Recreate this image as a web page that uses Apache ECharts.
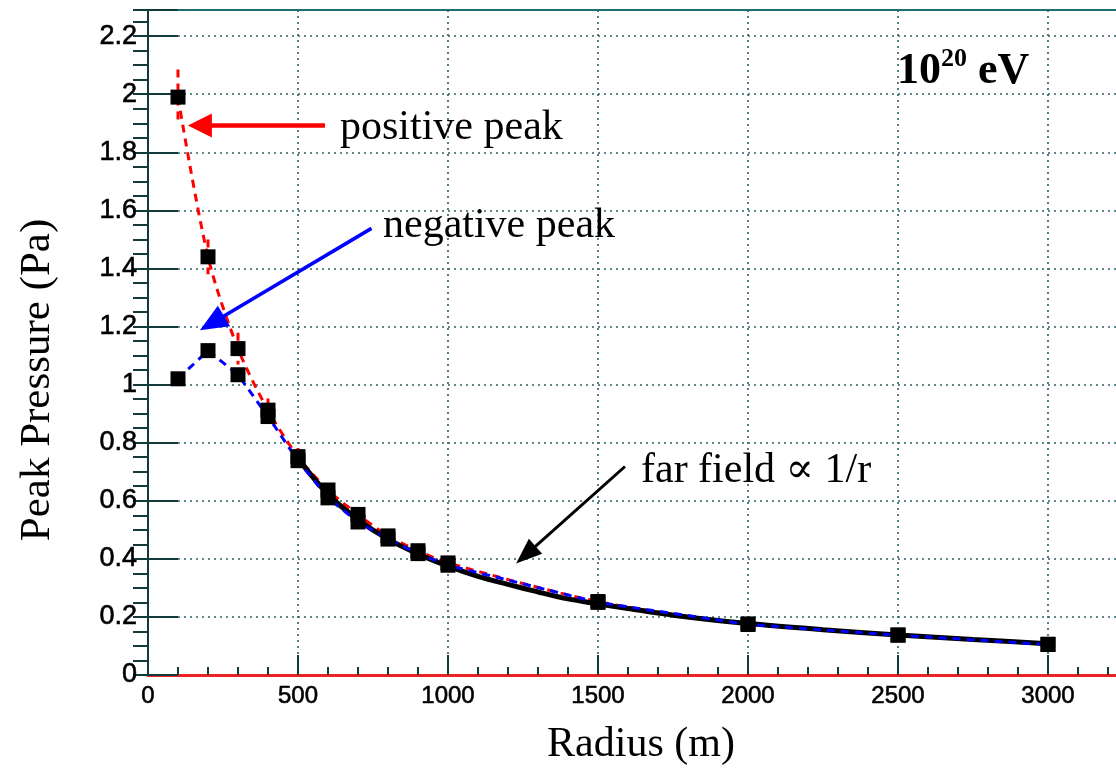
<!DOCTYPE html>
<html><head><meta charset="utf-8">
<script src="https://cdn.jsdelivr.net/npm/echarts@6/dist/echarts.min.js"></script>
<style>html,body{margin:0;padding:0;background:#fff}#c{width:1116px;height:768px}</style>
</head><body><div id="c"></div>
<script>
// ---- data ----
const radius = [100, 200, 300, 400, 500, 600, 700, 800, 900, 1000, 1500, 2000, 2500, 3000];
const positivePeak = [1.99, 1.44, 1.124, 0.912, 0.752, 0.637, 0.553, 0.479, 0.428, 0.386, 0.253, 0.176, 0.138, 0.106];
const negativePeak = [1.02, 1.117, 1.034, 0.89, 0.738, 0.61, 0.527, 0.468, 0.418, 0.378, 0.25, 0.174, 0.137, 0.105];
const errRadius = [100, 200, 300, 400, 500];
const errHalf = [0.095, 0.06, 0.055, 0.04, 0.03];
const farRadius = [500, 600, 700, 800, 900, 1000, 1100, 1200, 1300, 1400, 1500, 1600, 1750, 2000, 2250, 2500, 2750, 3000];
const farPressure = [0.745, 0.622, 0.535, 0.468, 0.417, 0.375, 0.34, 0.312, 0.286, 0.262, 0.245, 0.229, 0.206, 0.177, 0.156, 0.138, 0.122, 0.108];
const xTicks = [0, 500, 1000, 1500, 2000, 2500, 3000];
const yTicks = [0, 0.2, 0.4, 0.6, 0.8, 1, 1.2, 1.4, 1.6, 1.8, 2, 2.2];

const pair = (xs, ys) => xs.map((x, i) => [x, ys[i]]);
const AX = '#123c3c';
const GRID = '#2c6262';

const chart = echarts.init(document.getElementById('c'));
const option = {
  animation: false,
  backgroundColor: '#fff',
  grid: {left: 148, top: 10, width: 990, height: 665, containLabel: false, outerBoundsMode: 'none'},
  xAxis: [
    {type: 'value', min: 0, max: 3300, interval: 500, position: 'bottom',
     axisLine: {show: true, onZero: false, lineStyle: {color: '#ee2222', width: 3}},
     axisTick: {show: true, inside: true, length: 20, lineStyle: {color: AX, width: 2}},
     splitLine: {show: true, lineStyle: {color: GRID, type: [2, 4], width: 1.6}},
     axisLabel: {margin: 9, fontFamily: 'Liberation Sans', fontSize: 24, color: '#000',
                 textBorderColor: '#000', textBorderWidth: 0.6,
                 formatter: v => xTicks.includes(v) ? String(v) : ''}},
    {type: 'value', min: 0, max: 3300, interval: 100, position: 'bottom',
     axisLine: {show: false}, axisLabel: {show: false}, splitLine: {show: false},
     axisTick: {show: true, inside: true, length: 8, lineStyle: {color: AX, width: 2}}},
    {type: 'value', min: 0, max: 3300, position: 'top',
     axisLine: {show: true, onZero: false, lineStyle: {color: '#1f6e6e', width: 2}},
     axisTick: {show: false}, axisLabel: {show: false}, splitLine: {show: false}}
  ],
  yAxis: [
    {type: 'value', min: 0, max: 2.29, interval: 0.2,
     axisLine: {show: true, onZero: false, lineStyle: {color: AX, width: 2}},
     axisTick: {show: true, inside: true, length: 30, lineStyle: {color: AX, width: 2}},
     splitLine: {show: true, lineStyle: {color: GRID, type: [2, 4], width: 1.6}},
     axisLabel: {margin: 11, fontFamily: 'Liberation Sans', fontSize: 27, color: '#000',
       textBorderColor: '#000', textBorderWidth: 0.6,
       formatter: v => {
         const r = Math.round(v * 10) / 10;
         return (Math.abs(v - r) < 1e-6 && yTicks.includes(r)) ? String(r) : '';
       }}},
    {type: 'value', min: 0, max: 2.29, interval: 0.05,
     axisLine: {show: false}, axisLabel: {show: false}, splitLine: {show: false},
     axisTick: {show: true, inside: true, length: 15, lineStyle: {color: AX, width: 2}}}
  ],
  series: [
    {name: 'positive', type: 'line', data: pair(radius, positivePeak), smooth: 0.3,
     showSymbol: false, z: 2, lineStyle: {color: '#ff0000', width: 3, type: [8, 6]}},
    {name: 'errors', type: 'custom', z: 2, data: errRadius.map((x, i) => [x, positivePeak[i], errHalf[i]]),
     renderItem: (params, api) => {
       const x = api.value(0), y = api.value(1), e = api.value(2);
       const p1 = api.coord([x, y + e]), p2 = api.coord([x, y - e]);
       return {type: 'line', shape: {x1: p1[0], y1: p1[1], x2: p2[0], y2: p2[1]},
               style: {stroke: '#ff0000', lineWidth: 3, lineDash: [8, 6]}};
     }},
    {name: 'far field', type: 'line', data: pair(farRadius, farPressure), smooth: 0.3,
     showSymbol: false, z: 3, lineStyle: {color: '#000', width: 5}},
    {name: 'negative', type: 'line', data: pair(radius, negativePeak),
     showSymbol: false, z: 4, lineStyle: {color: '#0000ff', width: 3, type: [8, 6]}},
    {name: 'pos pts', type: 'scatter', data: pair(radius, positivePeak), symbol: 'rect', symbolSize: 15,
     z: 5, itemStyle: {color: '#000', opacity: 1}},
    {name: 'neg pts', type: 'scatter', data: pair(radius, negativePeak), symbol: 'rect', symbolSize: 15,
     z: 5, itemStyle: {color: '#000', opacity: 1}}
  ]
};
chart.setOption(option);

function arrow(tailD, headD, color, width, headLen, headHalf) {
  const t = chart.convertToPixel({gridIndex: 0}, tailD);
  const h = chart.convertToPixel({gridIndex: 0}, headD);
  const dx = h[0] - t[0], dy = h[1] - t[1], L = Math.hypot(dx, dy);
  const ux = dx / L, uy = dy / L;
  const bx = h[0] - ux * headLen, by = h[1] - uy * headLen;
  const px = -uy, py = ux;
  return [
    {type: 'line', z: 10, shape: {x1: t[0], y1: t[1], x2: bx + ux * 2, y2: by + uy * 2},
     style: {stroke: color, lineWidth: width}},
    {type: 'polygon', z: 10, shape: {points: [h, [bx + px * headHalf, by + py * headHalf], [bx - px * headHalf, by - py * headHalf]]},
     style: {fill: color}}
  ];
}
function txt(text, x, y, font) {
  return {type: 'text', z: 11, x: x, y: y,
    style: {text: text, font: font, fill: '#000', align: 'left', verticalAlign: 'middle',
            textAlign: 'left', textVerticalAlign: 'middle'}};
}
const serif = '"Liberation Serif", "DejaVu Serif", serif';
const graphics = []
  .concat(arrow([590, 1.892], [133, 1.892], '#ff0000', 4.5, 24, 12))
  .concat(arrow([745, 1.538], [173, 1.187], '#0000ff', 3.5, 28, 12))
  .concat(arrow([1590, 0.718], [1227, 0.384], '#000000', 3, 26, 10))
  .concat([
    txt('positive peak', 340, 128, '42px ' + serif),
    txt('negative peak', 383, 226, '42px ' + serif),
    txt('far field \u221d 1/r', 641, 471, '42px ' + serif),
    {type: 'text', z: 11, x: 897, y: 70,
     style: {text: '{a|10}{s|20}{a| eV}', fill: '#000', align: 'left', verticalAlign: 'middle',
             textAlign: 'left', textVerticalAlign: 'middle',
             rich: {a: {font: 'bold 44px ' + serif, fill: '#000', verticalAlign: 'bottom', lineHeight: 48},
                    s: {font: 'bold 26px ' + serif, fill: '#000', verticalAlign: 'top', lineHeight: 48}}}},
    {type: 'text', z: 11, x: 641, y: 745,
     style: {text: 'Radius (m)', font: '42px ' + serif, fill: '#000', align: 'center', verticalAlign: 'middle',
             textAlign: 'center', textVerticalAlign: 'middle'}},
    {type: 'text', z: 11, x: 38, y: 380, rotation: Math.PI / 2,
     style: {text: 'Peak Pressure (Pa)', font: '43px ' + serif, fill: '#000', align: 'center', verticalAlign: 'middle',
             textAlign: 'center', textVerticalAlign: 'middle'}}
  ]);
chart.setOption({graphic: graphics});
</script></body></html>
